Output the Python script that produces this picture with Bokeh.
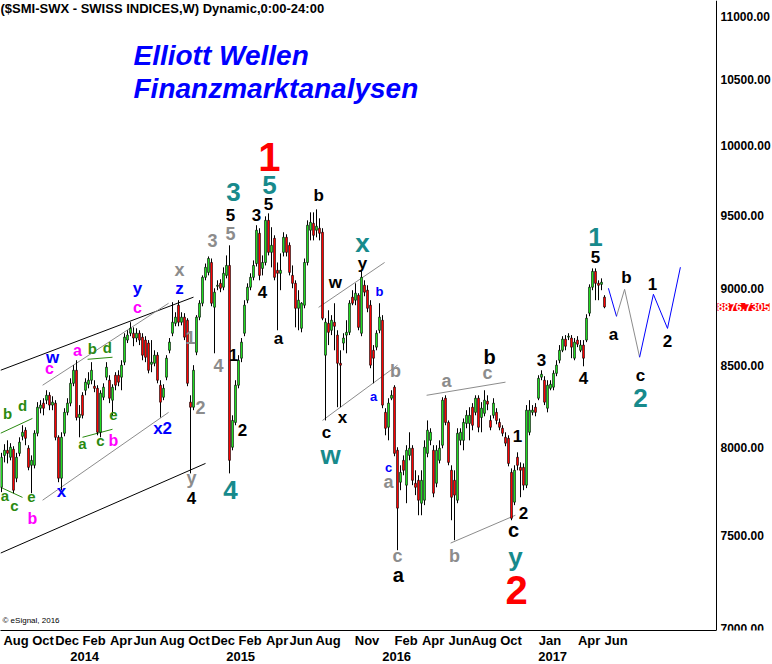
import pandas as pd
from bokeh.plotting import figure
from bokeh.models import (Range1d, FixedTicker, NumeralTickFormatter, Label, ColumnDataSource,
                          DatetimeAxis)
from bokeh.embed import file_html
from bokeh.resources import INLINE
from bokeh.core.properties import value

START = pd.Timestamp("2013-07-29")

opens = [
    7770, 7955, 7985, 7944, 7991, 7822, 7967, 8068, 8104, 7997,
    7897, 7897, 8086, 8237, 8268, 8286, 8316, 8256, 8268, 8062,
    7822, 8086, 8212, 8268, 8390, 8471, 8181, 8316, 8347, 8384,
    8409, 8372, 8359, 8092, 8304, 8428, 8409, 8286, 8440, 8440,
    8428, 8522, 8662, 8706, 8706, 8675, 8706, 8681, 8662, 8643,
    8509, 8515, 8566, 8378, 8304, 8428, 8597, 8706, 8770, 8888,
    8777, 8810, 8790, 8274, 8243, 8585, 8810, 8901, 9073, 9106,
    9173, 8875, 9013, 9033, 9007, 9086, 9153, 8003, 8151, 8378,
    8547, 8706, 8921, 9007, 9073, 9166, 9373, 9133, 9173, 9463,
    9242, 9338, 9120, 9100, 9242, 9345, 9290, 9086, 9033, 8868,
    8738, 8888, 9173, 9394, 9442, 9394, 9408, 9380, 8566, 8770,
    8725, 8777, 8694, 8515, 8643, 8694, 8712, 8941, 8921, 8954,
    8706, 9020, 8987, 8888, 8597, 8617, 8725, 8790, 8212, 8122,
    8298, 8366, 7985, 7799, 7926, 7782, 7955, 7997, 7793, 7810,
    7679, 7696, 7967, 8044, 7985, 7793, 7926, 8015, 8298, 8151,
    7868, 7810, 7696, 8044, 8044, 8145, 8145, 8243, 8212, 8298,
    8181, 8206, 8280, 8163, 8194, 8212, 8151, 8116, 8062, 8056,
    7856, 7685, 7944, 7885, 7885, 7782, 8092, 8212, 8243, 8298,
    8428, 8409, 8237, 8359, 8366, 8452, 8534, 8597, 8668, 8681,
    8675, 8547, 8662, 8597, 8630, 8662, 8836, 9007, 9113, 9033,
    9026, 8941,
]
highs = [
    7970, 8021, 8044, 8027, 8009, 7970, 8062, 8134, 8122, 8015,
    7955, 8104, 8274, 8286, 8298, 8347, 8335, 8310, 8286, 8074,
    8092, 8237, 8298, 8421, 8503, 8534, 8256, 8335, 8421, 8459,
    8522, 8409, 8378, 8347, 8390, 8522, 8440, 8384, 8459, 8471,
    8534, 8706, 8725, 8777, 8744, 8738, 8725, 8706, 8687, 8662,
    8662, 8597, 8585, 8409, 8384, 8566, 8675, 8908, 8842, 8921,
    8842, 8836, 8803, 8316, 8503, 8823, 8921, 9086, 9166, 9214,
    9200, 9000, 9053, 9060, 9140, 9221, 9290, 8194, 8409, 8566,
    8675, 8921, 9033, 9100, 9187, 9429, 9408, 9221, 9491, 9512,
    9415, 9359, 9173, 9235, 9380, 9366, 9310, 9153, 9053, 8987,
    8908, 9200, 9463, 9519, 9519, 9540, 9477, 9408, 8803, 8855,
    8823, 8901, 8725, 8597, 8706, 8790, 8921, 8987, 9033, 8967,
    9120, 9053, 9020, 8921, 8630, 8725, 8901, 8823, 8237, 8298,
    8347, 8378, 8003, 7897, 7955, 8015, 8092, 8015, 7868, 7839,
    7868, 8044, 8163, 8116, 8015, 8015, 8044, 8304, 8316, 8163,
    7897, 7868, 8116, 8116, 8175, 8225, 8243, 8268, 8316, 8316,
    8274, 8347, 8316, 8194, 8298, 8237, 8175, 8134, 8092, 8074,
    7879, 7897, 7973, 7914, 7908, 8256, 8286, 8256, 8268, 8440,
    8471, 8434, 8409, 8409, 8471, 8534, 8630, 8687, 8694, 8706,
    8694, 8675, 8687, 8662, 8662, 8829, 9026, 9133, 9133, 9053,
    9066, 8954,
]
lows = [
    7742, 7914, 7908, 7926, 7736, 7799, 7950, 8044, 8015, 7868,
    7736, 7879, 8068, 8206, 8194, 8262, 8225, 8225, 8044, 7799,
    7753, 8068, 8194, 8249, 8372, 8163, 8062, 8175, 8316, 8359,
    8384, 8335, 8074, 8062, 8286, 8409, 8268, 8194, 8347, 8372,
    8347, 8503, 8643, 8687, 8623, 8649, 8630, 8534, 8522, 8452,
    8459, 8496, 8390, 8181, 8286, 8409, 8578, 8687, 8751, 8751,
    8757, 8662, 8372, 7850, 8225, 8566, 8790, 8881, 9053, 9086,
    8881, 8578, 8987, 8974, 8987, 9066, 7850, 7985, 8134, 8359,
    8522, 8687, 8901, 8987, 9053, 9146, 9053, 9086, 9153, 9221,
    9140, 9053, 8725, 8987, 9214, 9214, 9086, 9000, 8744, 8725,
    8712, 8868, 9153, 9324, 9324, 9345, 9324, 8790, 8163, 8630,
    8694, 8597, 8243, 8243, 8597, 8578, 8694, 8888, 8888, 8725,
    8687, 8947, 8842, 8484, 8390, 8597, 8706, 8237, 8074, 8044,
    8286, 7950, 7417, 7753, 7839, 7679, 7926, 7782, 7725, 7611,
    7611, 7668, 7944, 8015, 7713, 7770, 7908, 7997, 8134, 7897,
    7583, 7472, 7679, 8015, 7985, 8116, 8044, 8104, 8194, 8092,
    8092, 8188, 8225, 8104, 8175, 8140, 8104, 8068, 8009, 7891,
    7583, 7668, 7868, 7713, 7753, 7765, 8074, 8194, 8188, 8286,
    8409, 8256, 8212, 8347, 8347, 8434, 8515, 8585, 8597, 8662,
    8547, 8534, 8617, 8585, 8496, 8649, 8816, 8987, 8921, 8921,
    8987, 8868,
]
closes = [
    7944, 7985, 7967, 8003, 7753, 7944, 8033, 8092, 8056, 7885,
    7926, 8086, 8243, 8256, 8237, 8316, 8256, 8274, 8062, 7822,
    8062, 8212, 8268, 8390, 8471, 8181, 8200, 8194, 8397, 8409,
    8471, 8359, 8092, 8329, 8366, 8490, 8298, 8366, 8378, 8397,
    8503, 8681, 8694, 8738, 8675, 8706, 8662, 8566, 8553, 8471,
    8522, 8566, 8409, 8274, 8359, 8547, 8649, 8777, 8810, 8777,
    8810, 8681, 8390, 8243, 8471, 8810, 8901, 9073, 9140, 9200,
    8901, 8974, 9020, 9000, 9100, 9153, 7926, 8163, 8378, 8534,
    8649, 8888, 9007, 9073, 9153, 9394, 9086, 9173, 9463, 9242,
    9290, 9073, 9100, 9120, 9345, 9242, 9106, 9033, 8868, 8921,
    8901, 9173, 9429, 9449, 9359, 9422, 9373, 8803, 8777, 8712,
    8790, 8751, 8515, 8503, 8675, 8712, 8901, 8901, 8967, 8744,
    9073, 8974, 8868, 8503, 8547, 8706, 8810, 8256, 8116, 8268,
    8316, 7967, 7651, 7856, 7868, 7985, 7997, 7810, 7770, 7696,
    7810, 8003, 8104, 8092, 7736, 7985, 7997, 8286, 8151, 7914,
    7713, 7725, 8086, 8092, 8151, 8194, 8194, 8134, 8298, 8122,
    8237, 8286, 8262, 8122, 8268, 8163, 8122, 8086, 8027, 7908,
    7594, 7868, 7897, 7868, 7782, 8225, 8225, 8225, 8212, 8421,
    8446, 8274, 8378, 8384, 8452, 8503, 8597, 8668, 8623, 8687,
    8617, 8649, 8636, 8630, 8547, 8803, 9007, 9113, 9033, 9020,
    9040, 8876.73,
]

last_price_text = "8876.7305"
price_ticks = [7000, 7500, 8000, 8500, 9000, 9500, 10000, 10500, 11000]
month_labels = [(2013, 8, "Aug"), (2013, 10, "Oct"), (2013, 12, "Dec"), (2014, 2, "Feb"),
                (2014, 4, "Apr"), (2014, 6, "Jun"), (2014, 8, "Aug"), (2014, 10, "Oct"),
                (2014, 12, "Dec"), (2015, 2, "Feb"), (2015, 4, "Apr"), (2015, 6, "Jun"),
                (2015, 8, "Aug"), (2015, 11, "Nov"), (2016, 2, "Feb"), (2016, 4, "Apr"),
                (2016, 6, "Jun"), (2016, 8, "Aug"), (2016, 10, "Oct"), (2017, 1, "Jan"),
                (2017, 4, "Apr"), (2017, 6, "Jun")]
year_labels = [2014, 2015, 2016, 2017]

# Elliott wave labels: (text, week index, price)
wave_big_red = [("1", 89.3, 9913), ("2", 171.7, 7200)]
wave_teal = [("3", 77.3, 9660), ("5", 89.3, 9710), ("4", 76.3, 7753), ("x", 120.3, 9303),
             ("w", 109.7, 7955), ("y", 171.3, 7379), ("1", 198, 9344), ("2", 213, 8300)]
wave_black = [("5", 76.3, 9498), ("3", 85, 9498), ("5", 89, 9575), ("4", 87, 8974),
              ("a", 92.3, 8675), ("b", 105.7, 9639), ("w", 111.3, 9040), ("y", 120.3, 9167),
              ("c", 108.3, 8092), ("x", 113.7, 8181), ("2", 80.3, 8104), ("1", 77.3, 8566),
              ("4", 63.3, 7707), ("2", 174, 7622), ("1", 172, 8068), ("3", 180, 8534),
              ("4", 194, 8421), ("5", 198, 9207), ("a", 204, 8700), ("b", 208.3, 9073),
              ("1", 217, 9026), ("2", 222, 8656), ("c", 213, 8440)]
wave_black_l = [("a", 132.3, 7282), ("b", 162.7, 8553), ("c", 170.7, 7528)]
wave_gray = [("3", 70.3, 9324), ("5", 76.3, 9373), ("4", 72.3, 8503), ("2", 66.3, 8243),
             ("1", 63, 8681), ("x", 59.3, 9120), ("y", 63.3, 7822), ("b", 131.3, 8465),
             ("a", 129, 7798), ("c", 132, 7384), ("a", 148.3, 8403), ("c", 162, 8452),
             ("b", 151, 7384)]
wave_blue_l = [("y", 45.3, 9000), ("z", 59.3, 9000), ("x2", 53.7, 8116), ("x", 20, 7748),
               ("w", 17, 8553)]
wave_blue_s = [("b", 126, 8980), ("a", 124, 8310), ("c", 129, 7885)]
wave_magenta = [("c", 45.3, 8875), ("c", 16, 8484), ("a", 25.3, 8597), ("b", 37.3, 8044),
                ("b", 10.3, 7594)]
wave_green = [("b", 2, 8206), ("d", 7, 8256), ("a", 1.1, 7725), ("c", 4.3, 7668), ("e", 10, 7713),
              ("b", 30.3, 8610), ("d", 35.3, 8617), ("a", 27, 8027), ("c", 33, 8044),
              ("e", 37.3, 8194)]

# trend / channel lines: lists of (week index, price)
lines_black = [[(-0.33, 8471), (64, 8941)], [(-0.33, 7401), (68, 7908)]]
lines_gray = [[(13.7, 8378), (55.7, 8901)], [(13.7, 7696), (55.7, 8212)],
              [(105.7, 8874), (127.7, 9173)], [(107, 8163), (132, 8503)],
              [(141.7, 8316), (168, 8397)], [(149.7, 7456), (171.3, 7611)]]
lines_green = [[(-0.33, 8086), (10.3, 8175)], [(-0.33, 7770), (7, 7712)],
               [(28.7, 8540), (37, 8553)], [(27, 8062), (37, 8110)]]
fc_blue = [[(202.3, 9000), (205, 8815)], [(212.7, 8553), (217.3, 8960), (222, 8737), (226.3, 9141)]]
fc_gray = [[(205, 8815), (207.7, 8993), (212.7, 8553)]]


def wk(k):
    return START + pd.Timedelta(days=7 * k)


def ms(ts):
    return int(ts.value // 10**6)


dates = [wk(i) for i in range(len(closes))]
FONT = "Liberation Sans"
DAY = 24 * 3600 * 1000

p = figure(frame_width=772, frame_height=630, x_axis_type="datetime", y_axis_type="log",
           x_range=Range1d(wk(-1 / 3), wk(771 / 3)), y_range=Range1d(6990, 11131),
           y_axis_location="right", output_backend="svg", toolbar_location=None,
           min_border_left=0, min_border_top=0, min_border_right=0, min_border_bottom=0,
           background_fill_color="white", border_fill_color="white", outline_line_color=None)
p.xgrid.visible = False
p.ygrid.visible = False

# price axis, drawn at the chart's right edge
ya = p.yaxis[0]
ya.fixed_location = ms(wk(715 / 3))
ya.ticker = FixedTicker(ticks=price_ticks)
ya.formatter = NumeralTickFormatter(format="0.00")
ya.major_tick_line_color = None
ya.minor_tick_line_color = None
ya.major_tick_out = 0
ya.minor_tick_out = 0
ya.axis_line_color = "black"
ya.major_label_standoff = 4
ya.major_label_text_font = FONT
ya.major_label_text_font_style = "bold"
ya.major_label_text_font_size = "12px"
ya.major_label_text_color = "black"

# time axes: month row and year row (labels start at first weekly bar of each month)
month_ticks, month_over = [], {}
for yr, mo, name in month_labels:
    first = next(d for d in dates if d.year == yr and d.month == mo)
    t = ms(first) + 27 * DAY
    month_ticks.append(t)
    month_over[t] = name
year_ticks, year_over = [], {}
for yr in year_labels:
    first = next(d for d in dates if d.year == yr and d.month == 1)
    t = ms(first) + 33 * DAY
    year_ticks.append(t)
    year_over[t] = str(yr)

xa = p.xaxis[0]
xa.ticker = FixedTicker(ticks=month_ticks)
xa.major_label_overrides = month_over
xa.bounds = (ms(wk(-1 / 3)), ms(wk(715 / 3)))
xa.major_tick_line_color = None
xa.minor_tick_line_color = None
xa.major_tick_out = 0
xa.minor_tick_out = 0
xa.axis_line_color = "black"
xa.major_label_standoff = 2
xa.major_label_text_font = FONT
xa.major_label_text_font_style = "bold"
xa.major_label_text_font_size = "13px"
xa.major_label_text_color = "black"

yax = DatetimeAxis(ticker=FixedTicker(ticks=year_ticks), major_label_overrides=year_over,
                   axis_line_color=None, major_tick_line_color=None, minor_tick_line_color=None,
                   major_tick_out=0, minor_tick_out=0, major_label_standoff=1,
                   major_label_text_font=FONT, major_label_text_font_style="bold",
                   major_label_text_font_size="13px", major_label_text_color="black")
p.add_layout(yax, "below")

# lines
for group, color in ((lines_black, "black"), (lines_gray, "#8c8c8c"), (lines_green, "#2a8a10"),
                     (fc_gray, "#8c8c8c"), (fc_blue, "#0000ff")):
    for seg in group:
        p.line([wk(k) for k, _ in seg], [v for _, v in seg], line_color=color, line_width=1)

# candles
inc = [c >= o for o, c in zip(opens, closes)]
src_up = ColumnDataSource(dict(x=[d for d, u in zip(dates, inc) if u],
                               top=[c for c, u in zip(closes, inc) if u],
                               bottom=[o for o, u in zip(opens, inc) if u]))
src_dn = ColumnDataSource(dict(x=[d for d, u in zip(dates, inc) if not u],
                               top=[o for o, u in zip(opens, inc) if not u],
                               bottom=[c for c, u in zip(closes, inc) if not u]))
p.segment(x0=dates, y0=lows, x1=dates, y1=highs, line_color="black", line_width=1)
w = 4.6 * DAY
p.vbar(x="x", top="top", bottom="bottom", width=w, source=src_up,
       fill_color="#22dd22", line_color="black", line_width=0.6)
p.vbar(x="x", top="top", bottom="bottom", width=w, source=src_dn,
       fill_color="#ff0000", line_color="black", line_width=0.6)

# wave labels
for group, color, size in ((wave_big_red, "#ff0000", "40px"), (wave_teal, "#178a8c", "26px"),
                           (wave_black, "black", "17px"), (wave_black_l, "black", "20px"),
                           (wave_gray, "#8c8c8c", "18px"), (wave_blue_l, "#0000ff", "17px"),
                           (wave_blue_s, "#0000ff", "13px"), (wave_magenta, "#ff00ff", "16px"),
                           (wave_green, "#2a8a10", "15px")):
    p.text(x=[wk(k) for _, k, _ in group], y=[v for _, _, v in group], text=[t for t, _, _ in group],
           text_color=color, text_font=value(FONT), text_font_style="bold", text_font_size=size,
           text_align="center", text_baseline="middle")

# header texts
p.add_layout(Label(x=0, y=622, x_units="screen", y_units="screen",
                   text="($SMI-SWX - SWISS INDICES,W) Dynamic,0:00-24:00",
                   text_font=FONT, text_font_size="13px", text_font_style="bold",
                   text_color="black", text_baseline="middle", text_align="left"))
p.add_layout(Label(x=133, y=575, x_units="screen", y_units="screen", text="Elliott Wellen",
                   text_font=FONT, text_font_size="28px", text_font_style="bold italic",
                   text_color="#0000ff", text_baseline="middle", text_align="left"))
p.add_layout(Label(x=133, y=542, x_units="screen", y_units="screen", text="Finanzmarktanalysen",
                   text_font=FONT, text_font_size="28px", text_font_style="bold italic",
                   text_color="#0000ff", text_baseline="middle", text_align="left"))
p.add_layout(Label(x=2, y=10, x_units="screen", y_units="screen", text="\u00a9 eSignal, 2016",
                   text_font=FONT, text_font_size="8px", text_color="black",
                   text_baseline="middle", text_align="left"))

# last price tag on the price axis
p.add_layout(Label(x=717, y=closes[-1], x_units="screen", y_units="data", text=last_price_text,
                   text_font=FONT, text_font_size="11px", text_font_style="bold",
                   text_color="white", background_fill_color="#ff0000",
                   text_baseline="middle", text_align="left"))

open("out.html", "w").write(file_html(p, INLINE))
